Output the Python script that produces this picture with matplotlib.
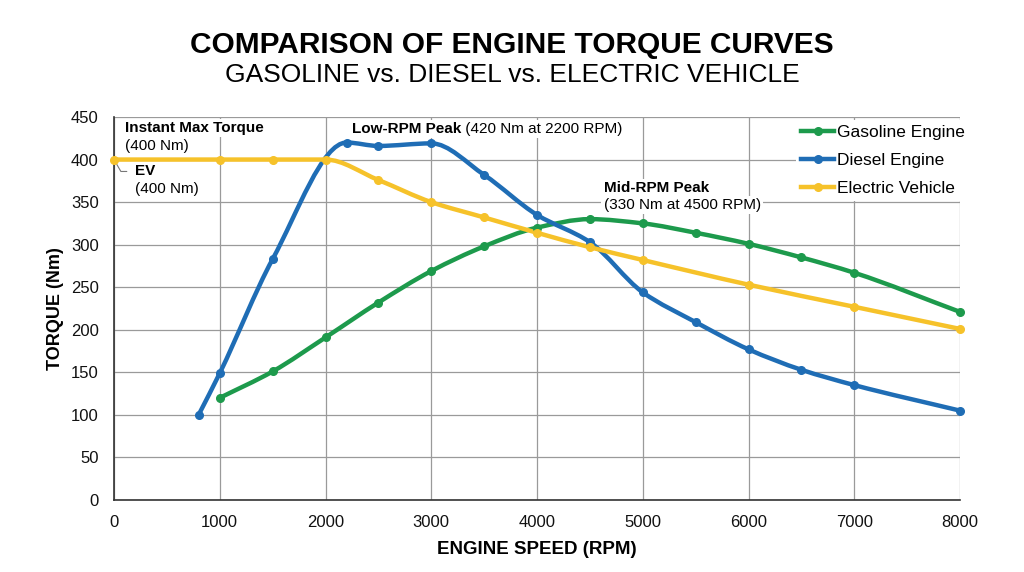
import matplotlib
matplotlib.use("Agg")
import matplotlib.pyplot as plt
import numpy as np
from matplotlib.path import Path
from matplotlib.patches import PathPatch
from matplotlib.lines import Line2D

# data
gas_rpm = [1000, 1500, 2000, 2500, 3000, 3500, 4000, 4500, 5000, 5500, 6000, 6500, 7000, 8000]
gas_nm = [120, 151, 191, 232, 269, 298, 320, 330, 325, 314, 301, 285, 267, 221]

diesel_rpm = [800, 1000, 1500, 2200, 2500, 3000, 3500, 4000, 4500, 5000, 5500, 6000, 6500, 7000, 8000]
diesel_nm = [100, 149, 283, 420, 416, 419, 382, 335, 303, 244, 209, 177, 153, 135, 105]

ev_rpm = [0, 1000, 1500, 2000, 2500, 3000, 3500, 4000, 4500, 5000, 6000, 7000, 8000]
ev_nm = [400, 400, 400, 400, 376, 350, 332, 314, 297, 282, 253, 227, 201]

x_ticks = list(range(0, 8001, 1000))
y_ticks = list(range(0, 451, 50))

GREEN = '#1d9a4c'
BLUE = '#1f6db5'
YELLOW = '#f6c22a'

plt.rcParams['font.family'] = ['Liberation Sans', 'DejaVu Sans']


def smooth_path(xs, ys):
    # monotone cubic (fritsch-carlson) drawn as bezier segments
    x = np.asarray(xs, float)
    y = np.asarray(ys, float)
    h = np.diff(x)
    d = np.diff(y) / h
    m = np.zeros_like(y)
    m[0], m[-1] = d[0], d[-1]
    for i in range(1, len(x) - 1):
        if d[i - 1] * d[i] > 0:
            w1 = 2 * h[i] + h[i - 1]
            w2 = h[i] + 2 * h[i - 1]
            m[i] = (w1 + w2) / (w1 / d[i - 1] + w2 / d[i])
    verts = [(x[0], y[0])]
    codes = [Path.MOVETO]
    for i in range(len(x) - 1):
        verts += [(x[i] + h[i] / 3, y[i] + m[i] * h[i] / 3),
                  (x[i + 1] - h[i] / 3, y[i + 1] - m[i + 1] * h[i] / 3),
                  (x[i + 1], y[i + 1])]
        codes += [Path.CURVE4] * 3
    return Path(verts, codes)


fig = plt.figure(figsize=(10.24, 5.72), dpi=100)
ax = fig.add_axes([114 / 1024, 72 / 572, 846 / 1024, 383 / 572])

for xs, ys, c in [(gas_rpm, gas_nm, GREEN), (diesel_rpm, diesel_nm, BLUE), (ev_rpm, ev_nm, YELLOW)]:
    ax.add_patch(PathPatch(smooth_path(xs, ys), facecolor='none', edgecolor=c,
                           lw=3.2, capstyle='round', joinstyle='round', zorder=3))
    ax.plot(xs, ys, 'o', color=c, ms=5.5, zorder=4, clip_on=False)

ax.set_xlim(0, 8000)
ax.set_ylim(0, 450)
ax.set_xticks(x_ticks)
ax.set_yticks(y_ticks)
ax.tick_params(length=0, labelsize=12, pad=11, colors='#111111')
ax.grid(True, color='#9a9a9a', lw=0.9)
ax.set_axisbelow(True)
for s in ['top', 'right']:
    ax.spines[s].set_visible(False)
for s in ['left', 'bottom']:
    ax.spines[s].set_color('#333333')
    ax.spines[s].set_linewidth(1.2)

ax.set_xlabel('ENGINE SPEED (RPM)', fontsize=13.5, fontweight='bold', labelpad=8)
ax.set_ylabel('TORQUE (Nm)', fontsize=13, fontweight='bold', labelpad=5)

fig.text(0.5, 1 - 45 / 572, 'COMPARISON OF ENGINE TORQUE CURVES', ha='center', va='center',
         fontsize=21.5, fontweight='bold')
fig.text(0.5, 1 - 75 / 572, 'GASOLINE vs. DIESEL vs. ELECTRIC VEHICLE', ha='center', va='center',
         fontsize=19)

box = dict(facecolor='white', edgecolor='none', pad=1.5)
fs = 11

# instant max torque note
ax.text(100, 437, 'Instant Max Torque', fontsize=fs, fontweight='bold', va='center', bbox=box, zorder=2.6)
ax.text(100, 416, '(400 Nm)', fontsize=fs, va='center', bbox=box, zorder=2.5)

# EV note with leader line
ax.annotate('EV', xy=(0, 400), xytext=(200, 386), fontsize=fs, fontweight='bold', va='center',
            arrowprops=dict(arrowstyle='-', color='#777777', lw=0.8,
                            connectionstyle='angle,angleA=0,angleB=-60,rad=0',
                            shrinkA=4, shrinkB=4), zorder=2.5)
ax.text(200, 365, '(400 Nm)', fontsize=fs, va='center', zorder=2.5)

# low rpm peak
t1 = ax.text(2250, 436, 'Low-RPM Peak', fontsize=fs, fontweight='bold', va='center', bbox=box, zorder=2.6)
ax.annotate(' (420 Nm at 2200 RPM)', xy=(1, 0.5), xycoords=t1, va='center', fontsize=fs,
            bbox=box, zorder=2.5)

# mid rpm peak
ax.text(4630, 366, 'Mid-RPM Peak', fontsize=fs, fontweight='bold', va='center', bbox=box, zorder=2.6)
ax.text(4630, 347, '(330 Nm at 4500 RPM)', fontsize=fs, va='center', bbox=box, zorder=2.5)

handles = [Line2D([], [], color=c, lw=3.2, marker='o', ms=5.5) for c in (GREEN, BLUE, YELLOW)]
leg = ax.legend(handles, ['Gasoline Engine', 'Diesel Engine', 'Electric Vehicle'],
                loc='upper left', bbox_to_anchor=(796 / 1024, 1 - 120 / 572),
                bbox_transform=fig.transFigure, fontsize=12.5, frameon=True, fancybox=False,
                framealpha=1, edgecolor='none', facecolor='white', handlelength=1.9,
                handletextpad=0.15, labelspacing=0.72, borderpad=0.3, borderaxespad=0)
leg.set_zorder(6)

fig.savefig('out.png', dpi=100)
